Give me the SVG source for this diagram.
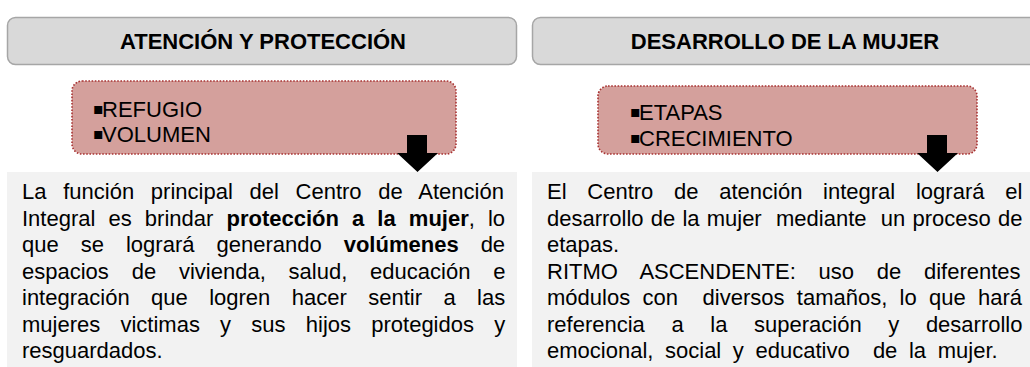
<svg xmlns="http://www.w3.org/2000/svg" width="1030" height="367" viewBox="0 0 1030 367">
<style>
.hdr{fill:#d9d9d9;stroke:#a6a6a6;stroke-width:1.5}
.pink{fill:#d4a09c;stroke:#a83232;stroke-width:1.6;stroke-dasharray:1.6 1.6}
.panel{fill:#f2f2f2}
text{font-family:"Liberation Sans",Arial,sans-serif;font-size:22px;fill:#000}
.ht{font-weight:bold;text-anchor:middle}
.b{font-weight:bold}
.blt{font-family:"DejaVu Sans",sans-serif;font-size:16px}
.arrow{fill:#000}
</style>
<rect width="1030" height="367" fill="#fff"/>
<g id="header-left">
<rect class="hdr" x="7.5" y="17.5" width="509" height="47" rx="8"/>
<text class="ht" x="263" y="49">ATENCIÓN Y PROTECCIÓN</text>
</g>
<g id="header-right">
<rect class="hdr" x="532.5" y="17.5" width="509" height="47" rx="8"/>
<text class="ht" x="785" y="49">DESARROLLO DE LA MUJER</text>
</g>
<g id="panel-left">
<rect class="panel" x="7" y="172" width="510" height="195"/>
<text x="22" y="199" word-spacing="10.6">La función principal del Centro de Atención</text>
<text x="22" y="225.5" word-spacing="7">Integral es brindar <tspan class="b">protección a la mujer</tspan>, lo</text>
<text x="22" y="252" word-spacing="15.9">que se logrará generando <tspan class="b">volúmenes</tspan> de</text>
<text x="22" y="278.5" word-spacing="16.7">espacios de vivienda, salud, educación e</text>
<text x="22" y="305" word-spacing="15.3">integración que logren hacer sentir a las</text>
<text x="22" y="331.5" word-spacing="14.1">mujeres victimas y sus hijos protegidos y</text>
<text x="22" y="358">resguardados.</text>
</g>
<g id="panel-right">
<rect class="panel" x="532" y="172" width="510" height="195"/>
<text x="547" y="199" word-spacing="14.6">El Centro de atención integral logrará el</text>
<text x="547" y="225.5" word-spacing="1.05" xml:space="preserve">desarrollo de la mujer  mediante  un proceso de</text>
<text x="547" y="252">etapas.</text>
<text x="547" y="278.5" word-spacing="16.6">RITMO ASCENDENTE: uso de diferentes</text>
<text x="547" y="305" word-spacing="6.2" xml:space="preserve">módulos con  diversos tamaños, lo que hará</text>
<text x="547" y="331.5" word-spacing="20.5">referencia a la superación y desarrollo</text>
<text x="547" y="358" word-spacing="5.5" xml:space="preserve">emocional, social y educativo  de la mujer.</text>
</g>
<g id="keywords-left">
<rect class="pink" x="72" y="81" width="384" height="73" rx="10"/>
<text x="93" y="117"><tspan class="blt" dy="-3">▪</tspan><tspan x="102" dy="3">REFUGIO</tspan></text>
<text x="93" y="142"><tspan class="blt" dy="-3">▪</tspan><tspan x="102" dy="3">VOLUMEN</tspan></text>
</g>
<g id="keywords-right">
<rect class="pink" x="598" y="86" width="379" height="68" rx="10"/>
<text x="630" y="120"><tspan class="blt" dy="-3">▪</tspan><tspan x="639" dy="3">ETAPAS</tspan></text>
<text x="630" y="146"><tspan class="blt" dy="-3">▪</tspan><tspan x="639" dy="3">CRECIMIENTO</tspan></text>
</g>
<g id="connectors">
<polygon class="arrow" points="407,135 427,135 427,153 438,153 417.5,172 397,153 407,153"/>
<polygon class="arrow" points="927,135 947,135 947,153 958,153 937.5,172 917,153 927,153"/>
</g>
</svg>
